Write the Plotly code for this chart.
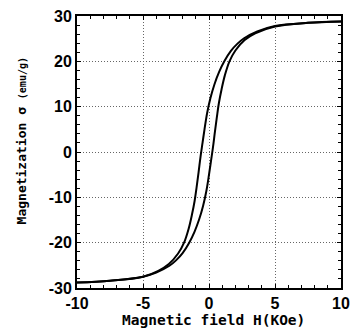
import plotly.graph_objects as go

# Descending branch (from +saturation to -saturation)
h_down = [10, 7.5, 5, 3.66, 2.66, 2.16, 1.66, 1.16, 0.76, 0.41, 0.11, -0.14, -0.34, -0.49, -0.64, -0.79, -0.94, -1.09, -1.29, -1.54, -1.89, -2.34, -3.04, -3.84, -5, -7.5, -10]
m_down = [28.8, 28.5, 27.8, 26.6, 25.1, 23.9, 22.3, 20.0, 17.6, 14.9, 11.9, 8.6, 5.0, 2.0, -1.0, -4.5, -7.8, -10.8, -13.8, -16.9, -20.0, -22.4, -24.7, -26.2, -27.5, -28.4, -28.8]

# Ascending branch (from -saturation to +saturation)
h_up = [-10, -7.5, -5, -4, -3, -2.5, -2.0, -1.5, -1.1, -0.75, -0.45, -0.2, 0.0, 0.15, 0.3, 0.45, 0.6, 0.75, 0.95, 1.2, 1.55, 2.0, 2.7, 3.5, 5, 7.5, 10]
m_up = [-28.8, -28.4, -27.5, -26.6, -25.1, -23.9, -22.3, -20.0, -17.6, -14.9, -11.9, -8.6, -5.0, -2.0, 1.0, 4.5, 7.8, 10.8, 13.8, 16.9, 20.0, 22.4, 24.7, 26.2, 27.7, 28.5, 28.8]

x_ticks = [-10, -5, 0, 5, 10]
y_ticks = [-30, -20, -10, 0, 10, 20, 30]

fig = go.Figure()
for hx, my in ((h_down, m_down), (h_up, m_up)):
    fig.add_trace(go.Scatter(x=hx, y=my, mode="lines",
                             line=dict(color="black", width=2, shape="spline", smoothing=1.0),
                             showlegend=False, hoverinfo="skip"))

tick_font = dict(family="Liberation Sans Narrow, Liberation Sans, Arial", size=16, color="black", weight="bold")
title_font = "DejaVu Sans Mono, Liberation Mono, monospace"

axis_common = dict(
    showline=True, linecolor="black", linewidth=2, mirror="allticks",
    ticks="inside", ticklen=4, tickwidth=1, tickcolor="black",
    showgrid=True, gridcolor="#666666", griddash="1px,2px", gridwidth=1,
    zeroline=False, tickfont=tick_font,
)

fig.update_xaxes(range=[-10, 10], tickvals=x_ticks, ticktext=[str(v) for v in x_ticks],
                 minor=dict(dtick=1, ticks="inside", ticklen=3, tickcolor="black", showgrid=False),
                 **axis_common)
fig.update_yaxes(range=[-30, 30], tickvals=y_ticks, ticktext=[str(v) for v in y_ticks],
                 minor=dict(dtick=2, ticks="inside", ticklen=3, tickcolor="black", showgrid=False),
                 **axis_common)

fig.add_annotation(xref="paper", yref="paper", x=0.517, y=-0.116, xanchor="center", yanchor="middle",
                   text="Magnetic field H(KOe)", showarrow=False,
                   font=dict(family=title_font, size=14.5, color="black", weight="bold"))
fig.add_annotation(xref="paper", yref="paper", x=-0.211, y=0.54, xanchor="center", yanchor="middle",
                   textangle=-90,
                   text="Magnetization σ <span style='font-size:10px'>(emu/g)</span>", showarrow=False,
                   font=dict(family=title_font, size=13, color="black", weight="bold"))

fig.update_layout(width=358, height=328, margin=dict(l=77, r=8, t=16, b=40),
                  plot_bgcolor="white", paper_bgcolor="white")

fig.write_html("out.html")
